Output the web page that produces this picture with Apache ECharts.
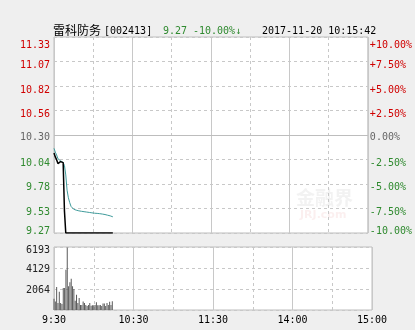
<!DOCTYPE html>
<html>
<head>
<meta charset="utf-8">
<script src="https://cdn.jsdelivr.net/npm/echarts@6/dist/echarts.min.js"></script>
<style>
html,body{margin:0;padding:0;background:#efefef;}
#c{width:415px;height:330px;}
</style>
</head>
<body>
<div id="c"></div>
<script>
// ---- data ----
var prevClose = 10.30;
var priceTicks = ['9.27','9.53','9.78','10.04','10.30','10.56','10.82','11.07','11.33'];
var pctTicks = ['-10.00%','-7.50%','-5.00%','-2.50%','0.00%','+2.50%','+5.00%','+7.50%','+10.00%'];
var volTicks = ['', '2064', '4129', '6193'];
var timeLabels = ['9:30','10:30','11:30','14:00','15:00'];
// minute-by-minute values from 9:30
var price = [10.11,10.07,10.04,10.00,10.00,10.02,10.02,10.01,9.50,9.27,
  9.27,9.27,9.27,9.27,9.27,9.27,9.27,9.27,9.27,9.27,
  9.27,9.27,9.27,9.27,9.27,9.27,9.27,9.27,9.27,9.27,
  9.27,9.27,9.27,9.27,9.27,9.27,9.27,9.27,9.27,9.27,
  9.27,9.27,9.27,9.27,9.27,9.27];
var avgPrice = [10.16,10.12,10.09,10.05,10.03,10.03,10.02,10.01,9.98,9.88,
  9.72,9.64,9.59,9.55,9.53,9.52,9.51,9.51,9.507,9.503,
  9.50,9.498,9.496,9.494,9.492,9.49,9.488,9.486,9.484,9.482,
  9.48,9.478,9.477,9.476,9.474,9.473,9.471,9.469,9.467,9.464,
  9.46,9.457,9.454,9.45,9.447,9.44];
var volume = [1100,830,2270,700,1800,700,600,2160,2160,3960,
  6150,2330,2730,3070,2330,2060,900,1500,700,1170,
  500,500,830,700,500,400,500,700,430,470,
  470,500,770,470,470,500,400,630,630,400,
  700,500,800,500,870];

// ---- build ----
var RED = '#d00000', GREEN = '#2f8a2f', GREY = '#666666';
var MONO = '"DejaVu Sans Mono", "Liberation Mono", monospace';
var FS = 10;
var priceData = price.map(function(v,i){return [i,v];});
var avgData = avgPrice.map(function(v,i){return [i,v];});
var volData = volume.map(function(v,i){return [i,v];});

var chart = echarts.init(document.getElementById('c'), null, {renderer:'canvas'});
var dashed = {show:true, lineStyle:{color:'#c8c8c8', type:[3,3], width:1}};
var solid = {show:true, lineStyle:{color:'#c8c8c8', type:'solid', width:1}};

function xAx(grid, interval, split, labels){
  return {type:'value', gridIndex:grid, position:'bottom', min:0, max:240, interval:interval,
    axisLine:{show:false}, axisTick:{show:false}, splitLine:split,
    axisLabel: labels ? {show:true, color:'#000', fontFamily:MONO, fontSize:FS, margin:5,
      formatter:function(v){return timeLabels[Math.round(v/60)];}} : {show:false}};
}
function richSet(){
  var base = {fontFamily:MONO, fontSize:FS, lineHeight:11};
  function st(c, pad){ return Object.assign({}, base, {color:c, padding:pad}); }
  return {
    r:st(RED,[8,0,0,0]), g:st(GREEN,[7,0,0,0]), n:st(GREY,[5,0,0,0]),
    rt:st(RED,[16,0,0,0]), gb:st(GREEN,[0,0,4,0]),
    k:st('#222',[2,0,0,0]), kt:st('#222',[6,0,0,0])
  };
}
function styleFor(i){
  if (i === 8) return 'rt';
  if (i === 0) return 'gb';
  return i > 4 ? 'r' : (i < 4 ? 'g' : 'n');
}

var option = {
  animation:false,
  backgroundColor:'#efefef',
  grid:[
    {left:54, top:37, width:318, height:196, show:true, backgroundColor:'#fff', borderColor:'#bdbdbd', borderWidth:1},
    {left:54, top:247, width:318, height:63, show:true, backgroundColor:'#fff', borderColor:'#bdbdbd', borderWidth:1}
  ],
  xAxis:[
    xAx(0,30,dashed,false),
    xAx(0,60,solid,false),
    xAx(1,30,dashed,false),
    xAx(1,60,solid,true)
  ],
  yAxis:[
    {type:'value', gridIndex:0, min:9.27, max:11.33, interval:0.2575, position:'left',
      axisLine:{show:false}, axisTick:{show:false}, splitLine:dashed,
      axisLabel:{margin:4, formatter:function(v){
          var i = Math.round((v-9.27)/0.2575);
          return '{' + styleFor(i) + '|' + priceTicks[i] + '}';
        }, rich:richSet()}},
    {type:'value', gridIndex:0, min:-10, max:10, interval:2.5, position:'right',
      axisLine:{show:false}, axisTick:{show:false}, splitLine:{show:false},
      axisLabel:{margin:2, formatter:function(v){
          var i = Math.round((v+10)/2.5);
          return '{' + styleFor(i) + '|' + pctTicks[i] + '}';
        }, rich:richSet()}},
    {type:'value', gridIndex:1, min:0, max:6193, interval:6193/3, position:'left',
      axisLine:{show:false}, axisTick:{show:false}, splitLine:dashed,
      axisLabel:{margin:4, formatter:function(v){
          var i = Math.round(v/(6193/3));
          if (!volTicks[i]) return '';
          return '{' + (i === 3 ? 'kt' : 'k') + '|' + volTicks[i] + '}';
        }, rich:richSet()}}
  ],
  graphic:[
    {type:'text', left:53, top:24, style:{text:'雷科防务', font:'12px "Noto Sans CJK SC"', fill:'#000'}},
    {type:'text', left:104, top:26, style:{text:'[002413]', font:FS + 'px ' + MONO, fill:'#000'}},
    {type:'text', left:163, top:26, style:{text:'9.27', font:FS + 'px ' + MONO, fill:GREEN}},
    {type:'text', left:193, top:26, style:{text:'-10.00%↓', font:FS + 'px ' + MONO, fill:GREEN}},
    {type:'text', left:262, top:26, style:{text:'2017-11-20 10:15:42', font:FS + 'px ' + MONO, fill:'#000'}},
    {type:'text', left:296, top:188, z:0, style:{text:'金融界', font:'bold 19px "Noto Sans CJK SC"', fill:'rgba(150,150,150,0.12)'}},
    {type:'text', left:300, top:210, z:0, style:{text:'JRJ.com', font:'bold 11px "DejaVu Sans"', fill:'rgba(220,120,120,0.12)'}}
  ],
  series:[
    {type:'line', xAxisIndex:0, yAxisIndex:0, data:avgData, showSymbol:false, symbol:'none',
      lineStyle:{color:'#3f9b9b', width:1}, z:3,
      markLine:{silent:true, symbol:'none', label:{show:false},
        lineStyle:{color:'#bdbdbd', type:'solid', width:1}, data:[{yAxis:prevClose}]}},
    {type:'line', xAxisIndex:0, yAxisIndex:0, data:priceData, showSymbol:false, symbol:'none',
      lineStyle:{color:'#000', width:1.5}, z:4},
    {type:'bar', xAxisIndex:2, yAxisIndex:2, data:volData, barWidth:1,
      itemStyle:{color:'#5a5a5a'}}
  ]
};
chart.setOption(option);
</script>
</body>
</html>
